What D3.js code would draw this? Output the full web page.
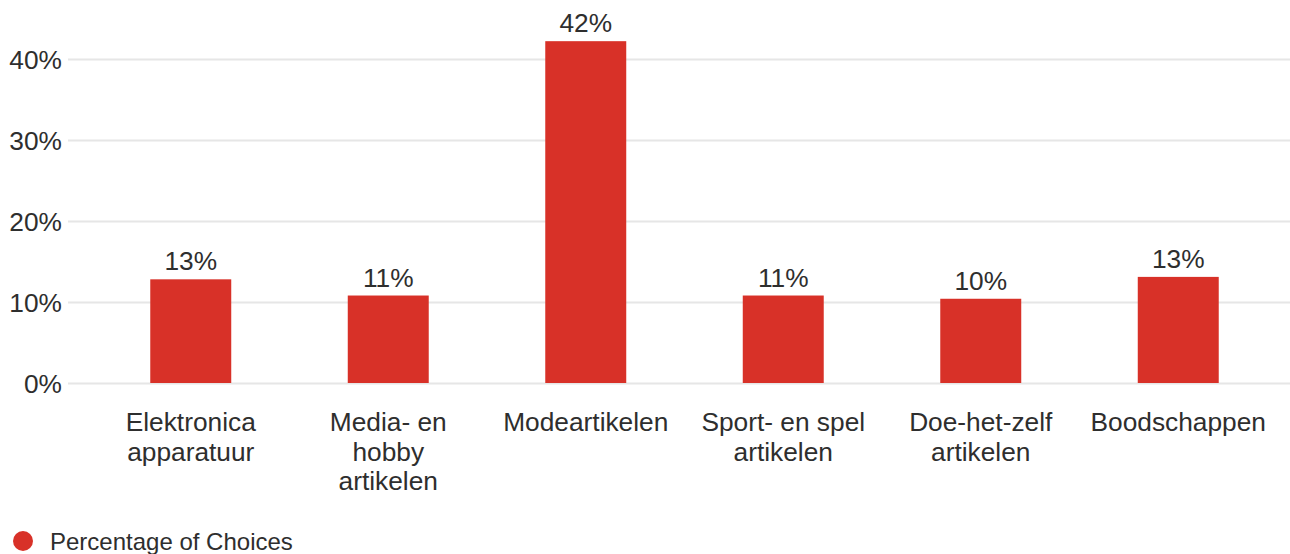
<!DOCTYPE html>
<html>
<head>
<meta charset="utf-8">
<script src="https://cdn.jsdelivr.net/npm/d3@7"></script>
<style>
  html, body { margin: 0; padding: 0; background: #fff; }
  svg { display: block; font-family: "Liberation Sans", Arial, sans-serif; }
</style>
</head>
<body>
<svg id="chart" width="1290" height="554"></svg>
<script>
// Share of choices per product category (percent)
const categories = [
  "Elektronica apparatuur",
  "Media- en hobby artikelen",
  "Modeartikelen",
  "Sport- en spel artikelen",
  "Doe-het-zelf artikelen",
  "Boodschappen"
];
const values = [12.8, 10.8, 42.2, 10.8, 10.4, 13.1];
const yTicks = [0, 10, 20, 30, 40];
const seriesName = "Percentage of Choices";

const barColor = "#d83128";
const textColor = "#2e2e2e";
const gridColor = "#e6e6e6";
const fontSize = 26.3;

const svg = d3.select("#chart");

const x = d3.scaleBand()
  .domain(categories)
  .range([92, 1277])
  .paddingInner(0.59)
  .paddingOuter(0.295);

const y = d3.scaleLinear()
  .domain([0, 40])
  .range([383, 59]);

// Horizontal gridlines with percent labels
const yAxis = d3.axisLeft(y)
  .tickValues(yTicks)
  .tickFormat(d => d + "%")
  .tickSize(-(1290 - 68))
  .tickPadding(6);

const gy = svg.append("g")
  .attr("transform", "translate(68,0)")
  .call(yAxis);
gy.select(".domain").remove();
gy.selectAll(".tick line")
  .attr("stroke", gridColor)
  .attr("stroke-width", 2);
gy.selectAll(".tick text")
  .attr("fill", textColor)
  .attr("font-size", fontSize)
  .attr("font-family", "Liberation Sans, Arial, sans-serif")
  .attr("dy", "0.36em");

// Bars
svg.append("g")
  .selectAll("rect")
  .data(values)
  .join("rect")
  .attr("x", (d, i) => x(categories[i]))
  .attr("width", x.bandwidth())
  .attr("y", d => y(d))
  .attr("height", d => y(0) - y(d))
  .attr("fill", barColor);

// Value labels above bars
svg.append("g")
  .selectAll("text")
  .data(values)
  .join("text")
  .attr("x", (d, i) => x(categories[i]) + x.bandwidth() / 2)
  .attr("y", d => y(d) - 9)
  .attr("text-anchor", "middle")
  .attr("font-size", fontSize)
  .attr("fill", textColor)
  .text(d => Math.round(d) + "%");

// Category labels, wrapped to a fixed line width
const measure = svg.append("text").attr("font-size", fontSize).attr("visibility", "hidden");
function wrapWords(label, maxWidth) {
  const words = label.split(" ");
  const lines = [];
  let line = [];
  for (const w of words) {
    const trial = line.concat(w).join(" ");
    measure.text(trial);
    if (line.length && measure.node().getComputedTextLength() > maxWidth) {
      lines.push(line.join(" "));
      line = [w];
    } else {
      line.push(w);
    }
  }
  if (line.length) lines.push(line.join(" "));
  return lines;
}

const labels = svg.append("g")
  .selectAll("text")
  .data(categories)
  .join("text")
  .attr("x", d => x(d) + x.bandwidth() / 2)
  .attr("y", 431)
  .attr("text-anchor", "middle")
  .attr("font-size", fontSize)
  .attr("fill", textColor);

labels.each(function(d) {
  const t = d3.select(this);
  wrapWords(d, 170).forEach((ln, k) => {
    t.append("tspan")
      .attr("x", x(d) + x.bandwidth() / 2)
      .attr("dy", k === 0 ? 0 : 29.5)
      .text(ln);
  });
});
measure.remove();

// Legend
const legend = svg.append("g").attr("transform", "translate(23,541)");
legend.append("circle").attr("r", 10).attr("fill", barColor);
legend.append("text")
  .attr("x", 27)
  .attr("y", 8.5)
  .attr("font-size", 24)
  .attr("fill", textColor)
  .text(seriesName);
</script>
</body>
</html>
